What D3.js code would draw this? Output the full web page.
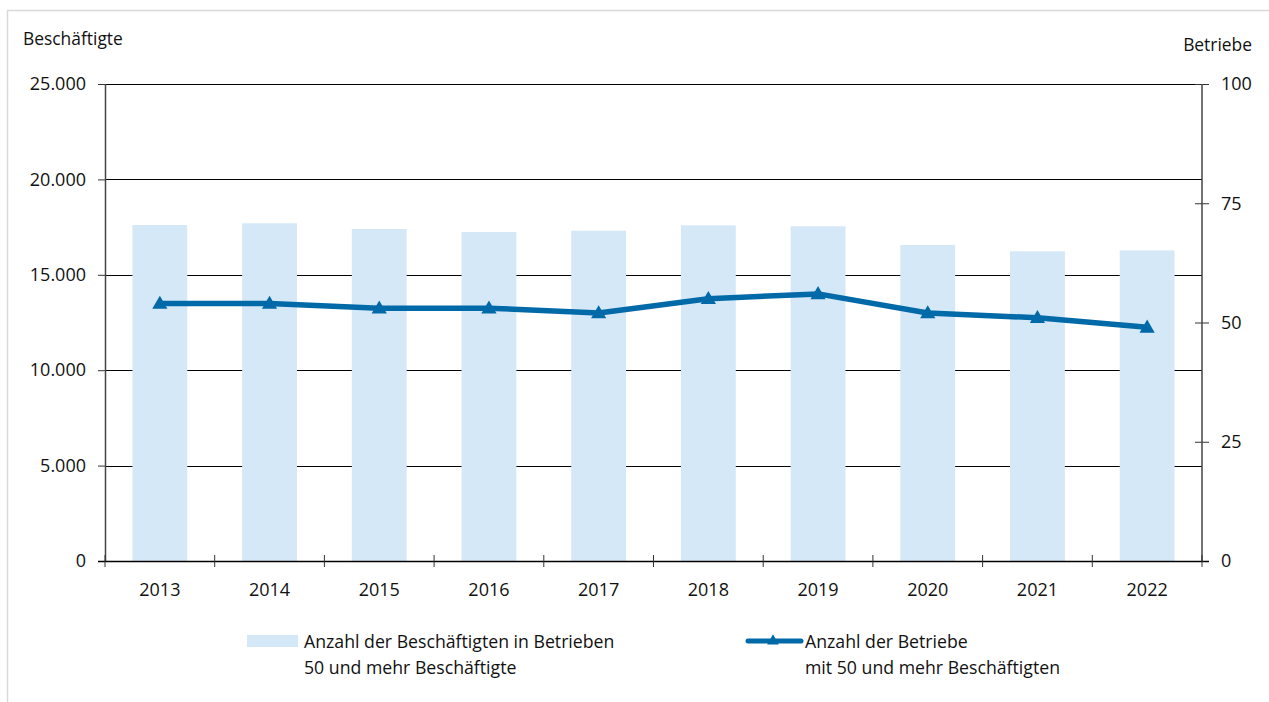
<!DOCTYPE html>
<html>
<head>
<meta charset="utf-8">
<script src="https://cdn.jsdelivr.net/npm/d3@7"></script>
<style>
  body { margin: 0; background: #fff; }
  svg text { font-family: "Open Sans", "Noto Sans", sans-serif; fill: #111; }
</style>
</head>
<body>
<svg id="chart"></svg>
<script>
// years on the x axis
var years = ["2013","2014","2015","2016","2017","2018","2019","2020","2021","2022"];
// Beschäftigte (bars, left axis)
var employees = [17610, 17700, 17400, 17240, 17310, 17590, 17540, 16560, 16230, 16280];
// Betriebe (line, right axis)
var companies = [54, 54, 53, 53, 52, 55, 56, 52, 51, 49];
// axis ticks
var leftTicks = [0, 5000, 10000, 15000, 20000, 25000];
var rightTicks = [0, 25, 50, 75, 100];

var screen = {width:1269, height:702};
var margins = {top:84, bottom:141, left:105, right:67};
var graph = {
    width:screen.width-margins.left-margins.right,
    height:screen.height-margins.top-margins.bottom
};

var svg = d3.select("#chart")
    .attr("width",screen.width)
    .attr("height",screen.height);

// light frame round the chart
svg.append("rect")
    .attr("x",7.5).attr("y",10.5)
    .attr("width",1300).attr("height",700)
    .attr("fill","none")
    .attr("stroke","#d9d9d9")
    .attr("stroke-width",1.5);

var xScale = d3.scaleBand()
    .domain(years)
    .range([0,graph.width])
    .paddingInner(0.5)
    .paddingOuter(0.25);

var xBoundary = d3.scaleLinear()
    .domain([0,years.length])
    .range([0,graph.width]);

var yLeft = d3.scaleLinear()
    .domain([0,25000])
    .range([graph.height,0]);

var yRight = d3.scaleLinear()
    .domain([0,100])
    .range([graph.height,0]);

var g = svg.append("g")
    .attr("transform","translate("+margins.left+","+margins.top+")");

// gridlines (behind the bars)
g.selectAll("line.grid")
    .data(leftTicks.filter(function(t){ return t>0; }))
    .enter()
    .append("line")
    .classed("grid",true)
    .attr("x1",0).attr("x2",graph.width)
    .attr("y1",function(d){ return Math.round(yLeft(d))+0.5; })
    .attr("y2",function(d){ return Math.round(yLeft(d))+0.5; })
    .attr("stroke","#000")
    .attr("stroke-width",1);

// bars
g.selectAll("rect.bar")
    .data(employees)
    .enter()
    .append("rect")
    .classed("bar",true)
    .attr("x",function(d,i){ return xScale(years[i]); })
    .attr("width",xScale.bandwidth())
    .attr("y",function(d){ return yLeft(d); })
    .attr("height",function(d){ return graph.height-yLeft(d); })
    .attr("fill","#d4e8f8");

// left axis
var leftAxis = d3.axisLeft(yLeft)
    .tickValues(leftTicks)
    .tickSize(7)
    .tickPadding(12)
    .tickFormat(function(d){ return d3.format(",")(d).replace(/,/g,"."); });
var la = g.append("g").call(leftAxis);
la.select(".domain").remove();
la.selectAll("line").attr("stroke","#333");
la.selectAll("text").style("font-size","18px").attr("fill","#111");
g.append("line")
    .attr("x1",0.5).attr("x2",0.5)
    .attr("y1",0).attr("y2",graph.height)
    .attr("stroke","#444").attr("stroke-width",1.5);

// right axis
var rightAxis = d3.axisRight(yRight)
    .tickValues(rightTicks)
    .tickSize(7)
    .tickPadding(12);
var ra = g.append("g")
    .attr("transform","translate("+graph.width+",0)")
    .call(rightAxis);
ra.select(".domain").remove();
ra.selectAll("line").attr("stroke","#333").attr("x1",-7);
ra.selectAll("text").style("font-size","18px").attr("fill","#111");
g.append("line")
    .attr("x1",graph.width).attr("x2",graph.width)
    .attr("y1",0).attr("y2",graph.height)
    .attr("stroke","#444").attr("stroke-width",1.5);

// bottom axis line with ticks at category boundaries
g.append("line")
    .attr("x1",-7).attr("x2",graph.width+7)
    .attr("y1",graph.height+0.5).attr("y2",graph.height+0.5)
    .attr("stroke","#000").attr("stroke-width",1.5);
g.selectAll("line.xtick")
    .data(d3.range(years.length+1))
    .enter()
    .append("line")
    .classed("xtick",true)
    .attr("x1",function(d){ return xBoundary(d); })
    .attr("x2",function(d){ return xBoundary(d); })
    .attr("y1",graph.height-6)
    .attr("y2",graph.height+6)
    .attr("stroke","#333");
g.selectAll("text.xlabel")
    .data(years)
    .enter()
    .append("text")
    .classed("xlabel",true)
    .attr("x",function(d){ return xScale(d)+xScale.bandwidth()/2; })
    .attr("y",graph.height+35)
    .attr("text-anchor","middle")
    .style("font-size","18px")
    .text(function(d){ return d; });

// line for Betriebe
var lineGenerator = d3.line()
    .x(function(d,i){ return xScale(years[i])+xScale.bandwidth()/2; })
    .y(function(d){ return yRight(d); });

g.append("path")
    .datum(companies)
    .attr("d",lineGenerator)
    .attr("fill","none")
    .attr("stroke","#0069a8")
    .attr("stroke-width",5.5)
    .attr("stroke-linejoin","round");

var triangle = d3.symbol().type(d3.symbolTriangle).size(100);
g.selectAll("path.marker")
    .data(companies)
    .enter()
    .append("path")
    .classed("marker",true)
    .attr("d",triangle)
    .attr("transform",function(d,i){
        return "translate("+(xScale(years[i])+xScale.bandwidth()/2)+","+(yRight(d)+1)+")";
    })
    .attr("fill","#0069a8");

// axis titles
svg.append("text")
    .attr("x",23).attr("y",45)
    .style("font-size","17.4px")
    .text("Beschäftigte");
svg.append("text")
    .attr("x",1252).attr("y",51)
    .attr("text-anchor","end")
    .style("font-size","17.4px")
    .text("Betriebe");

// legend
var legend = svg.append("g");
legend.append("rect")
    .attr("x",247).attr("y",635)
    .attr("width",51).attr("height",12)
    .attr("fill","#d4e8f8");
legend.append("text")
    .attr("x",304).attr("y",648)
    .style("font-size","17.7px")
    .text("Anzahl der Beschäftigten in Betrieben");
legend.append("text")
    .attr("x",304).attr("y",674)
    .style("font-size","17.7px")
    .text("50 und mehr Beschäftigte");

legend.append("line")
    .attr("x1",748).attr("x2",801)
    .attr("y1",641).attr("y2",641)
    .attr("stroke","#0069a8")
    .attr("stroke-width",5)
    .attr("stroke-linecap","round");
legend.append("path")
    .attr("d",d3.symbol().type(d3.symbolTriangle).size(60))
    .attr("transform","translate(773,641)")
    .attr("fill","#0069a8");
legend.append("text")
    .attr("x",805).attr("y",648)
    .style("font-size","17.7px")
    .text("Anzahl der Betriebe");
legend.append("text")
    .attr("x",805).attr("y",674)
    .style("font-size","17.7px")
    .text("mit 50 und mehr Beschäftigten");
</script>
</body>
</html>
